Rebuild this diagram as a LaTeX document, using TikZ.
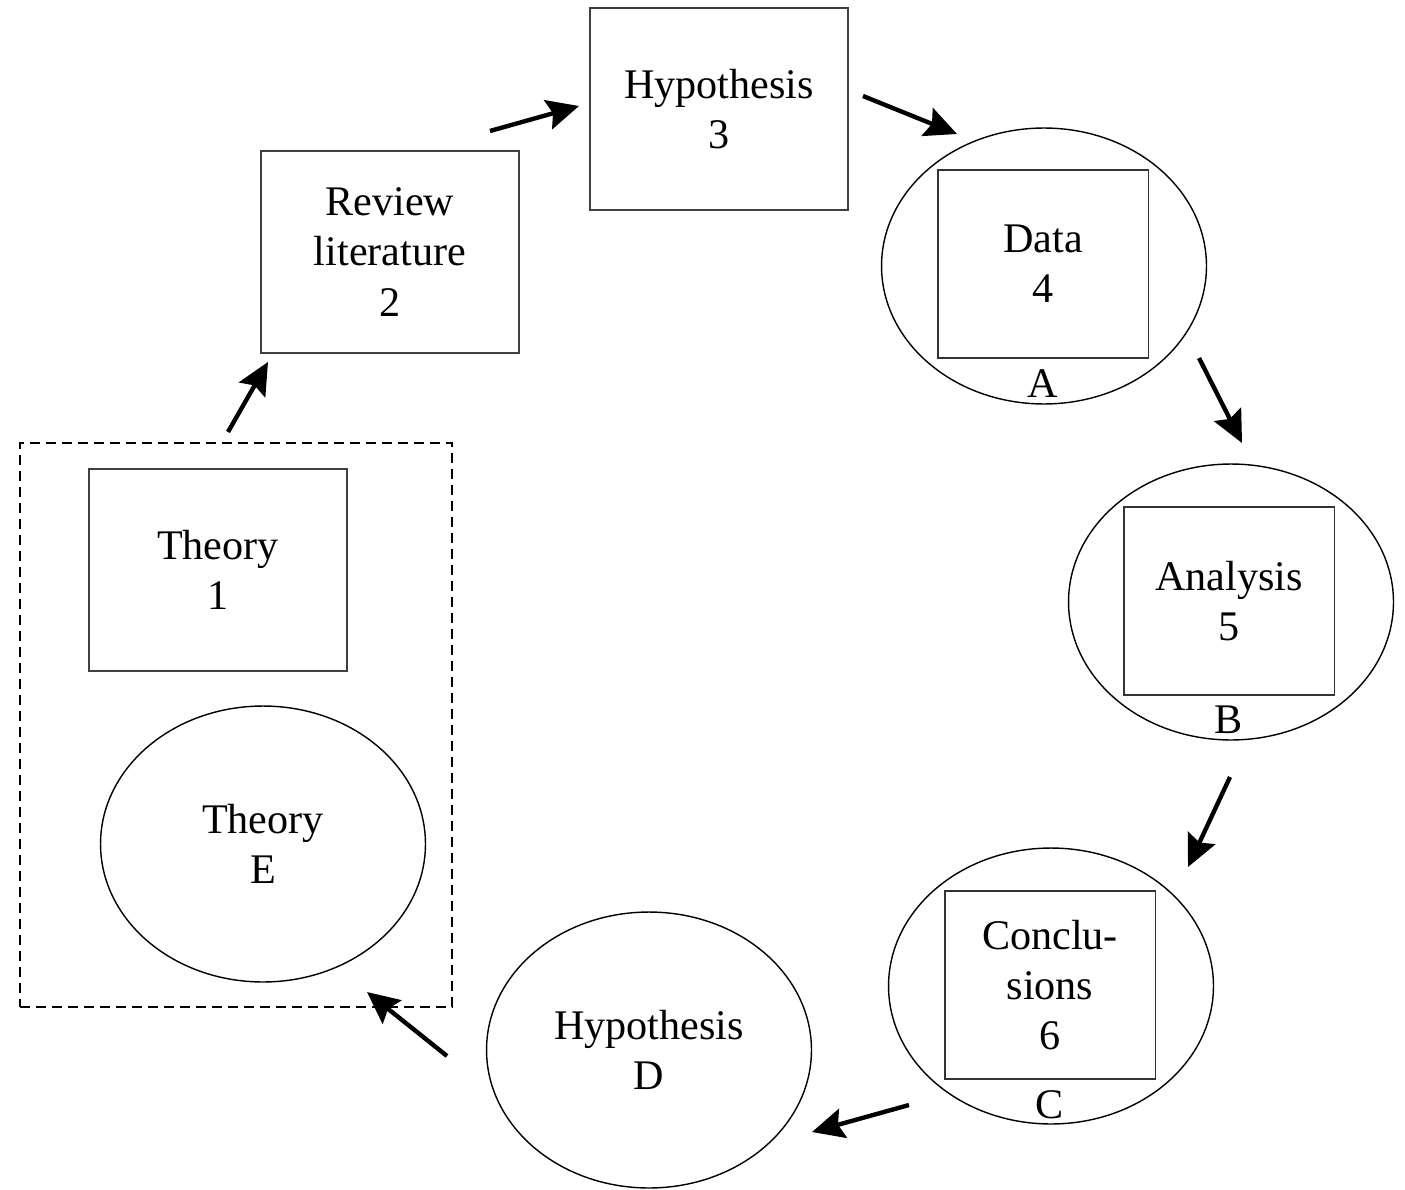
\documentclass[tikz,border=0pt]{standalone}
\usepackage{fontspec}
\setmainfont{Liberation Serif}
\usepackage{tikz}
\usetikzlibrary{positioning,shapes.geometric,arrows.meta}

\begin{document}
\begin{tikzpicture}[x=0.02cm, y=-0.02cm,
                    every node/.style={align=center, font=\fontsize{24}{28.5}\selectfont},
                    stage/.style={draw=black!75, line width=1.1pt, minimum width=5.16cm, minimum height=4.04cm, inner sep=0pt},
                    inbox/.style={draw=black!80, line width=1.1pt, minimum width=4.22cm, minimum height=3.76cm, inner sep=0pt},
                    oval/.style={draw, ellipse, line width=0.8pt, minimum width=6.5cm, minimum height=5.52cm, inner sep=0pt},
                    group/.style={draw, dash pattern=on 0.2cm off 0.12cm, line width=0.8pt, minimum width=8.64cm, minimum height=11.28cm, inner sep=0pt},
                    tag/.style={inner sep=0pt, below=0.2cm},
                    flow/.style={-{Stealth[length=0.64cm, width=0.6cm, inset=0.1cm]}, line width=2.5pt}
                ]
                    \useasboundingbox (0,0) rectangle (1405,1189);

                    % Nodes
                    \node (group) [group] at (236,725) {};
                    \node (theory) [stage] at (218,570) {Theory\\1};
                    \node (theoryE) [oval] at (263,844) {Theory\\E};
                    \node (review) [stage] at (390,252) {Review\\literature\\2};
                    \node (hypo) [stage] at (719,109) {Hypothesis\\3};

                    \node (dataE) [oval] at (1044,266) {};
                    \node (data) [inbox] at (1043,264) {Data\\4};
                    \node (A) [tag, below=0.2cm of data.south] {A};

                    \node (analE) [oval] at (1231,602) {};
                    \node (anal) [inbox] at (1229,601) {Analysis\\5};
                    \node (B) [tag, below=0.2cm of anal.south] {B};

                    \node (conclE) [oval] at (1051,986) {};
                    \node (concl) [inbox] at (1050,985) {Conclu-\\sions\\6};
                    \node (C) [tag, below=0.2cm of concl.south] {C};

                    \node (hypoD) [oval] at (649,1050) {Hypothesis\\D};

                    % Arrow ends
                    \coordinate (g1) at (228,432);  \coordinate (r1) at (268,362);
                    \coordinate (r2) at (490,131);  \coordinate (h1) at (579,106);
                    \coordinate (h2) at (863,96);   \coordinate (d1) at (957,134);
                    \coordinate (d2) at (1199,358); \coordinate (a1) at (1242,443);
                    \coordinate (a2) at (1230,777); \coordinate (c1) at (1188,867);
                    \coordinate (c2) at (909,1105); \coordinate (hd1) at (812,1132);
                    \coordinate (hd2) at (447,1056); \coordinate (t1) at (367,992);

                    % Arrows
                    \draw[flow] (g1) -- (r1);
                    \draw[flow] (r2) -- (h1);
                    \draw[flow] (h2) -- (d1);
                    \draw[flow] (d2) -- (a1);
                    \draw[flow] (a2) -- (c1);
                    \draw[flow] (c2) -- (hd1);
                    \draw[flow] (hd2) -- (t1);

                \end{tikzpicture}
\end{document}
